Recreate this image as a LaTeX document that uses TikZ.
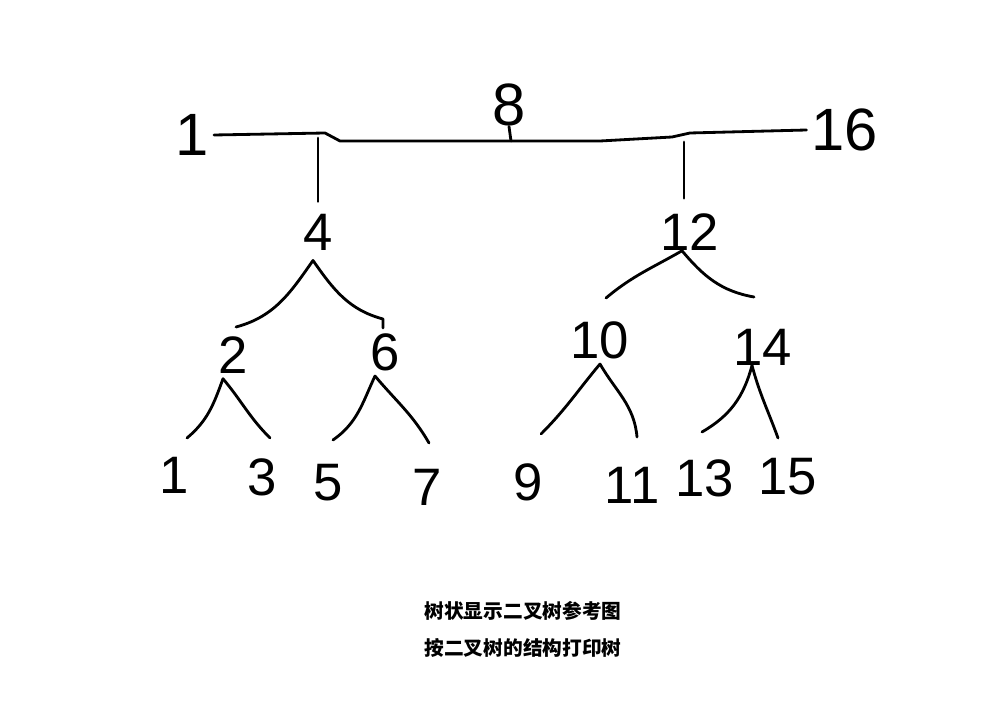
\documentclass[tikz,border=0pt]{standalone}
\usepackage{fontspec}
\setmainfont{Liberation Sans}
\newfontfamily\cjk{Noto Sans CJK SC}
\usetikzlibrary{positioning}

\begin{document}
\begin{tikzpicture}[
    x=0.02cm, y=-0.02cm,
    num/.style={inner sep=0pt, font=\fontsize{30}{30}\selectfont},
    bignum/.style={inner sep=0pt, font=\fontsize{34}{34}\selectfont},
    edge/.style={line width=1.6pt, line cap=round, line join=round},
    captext/.style={inner sep=0pt, font=\cjk\bfseries\fontsize{11.2}{13}\selectfont},
  ]
  \useasboundingbox (0,0) rectangle (998,702);

  \node[bignum] (n1) at (192,135) {1};
  \node[bignum] (n8) at (509,105) {8};
  \node[bignum] (n16) at (845,130) {16};

  \node[num] (n4) at (318,232) {4};
  \node[num] (n12) at (690,232) {12};

  \node[num] (n2) at (233,355) {2};
  \node[num] (n6) at (385,352) {6};
  \node[num] (n10) at (600,340) {10};
  \node[num] (n14) at (763,347) {14};

  \node[num] (l1) at (174,475) {1};
  \node[num] (l3) at (262,477) {3};
  \node[num] (l5) at (328,483) {5};
  \node[num] (l7) at (427,487) {7};
  \node[num] (l9) at (528,482) {9};
  \node[num] (l11) at (632,485) {11};
  \node[num] (l13) at (705,478) {13};
  \node[num] (l15) at (788,477) {15};

  \coordinate (j4) at (318,138);
  \coordinate (j8) at (511,141);
  \coordinate (j12) at (684,142);

  \draw[edge] ([xshift=1mm]n1.east) -- (325,133) -- (340,141) -- (600,141)
    -- (672,137) -- (690,133) -- ([xshift=-1mm]n16.west);
  \draw[edge] (n8.south) -- (j8);
  \draw[edge, shorten >=2.4mm] (j4) -- (n4.north);
  \draw[edge, shorten >=3mm] (j12) -- (j12 |- n12.north);

  \coordinate (e2) at (236,327);
  \coordinate (e6) at (383,328);
  \coordinate (e10) at (606,298);
  \coordinate (e14) at (754,297);
  \draw[edge] ([shift={(-1mm,-2mm)}]n4.south) to[out=-125, in=15] (e2);
  \draw[edge] ([shift={(-1mm,-2mm)}]n4.south) to[out=-55, in=165] (383,319) -- (e6);
  \draw[edge] ([xshift=-1.6mm]n12.south) to[out=-150, in=40] (e10);
  \draw[edge] ([xshift=-1.6mm]n12.south) to[out=-50, in=170] (e14);

  \coordinate (e1) at (187,438);
  \coordinate (e3) at (270,438);
  \coordinate (e5) at (333,440);
  \coordinate (e7) at (429,443);
  \coordinate (e9) at (541,434);
  \coordinate (e11) at (637,437);
  \coordinate (e13) at (702,432);
  \coordinate (e15) at (778,438);
  \draw[edge] ([shift={(-2mm,-1mm)}]n2.south) to[out=-110, in=40] (e1);
  \draw[edge] ([shift={(-2mm,-1mm)}]n2.south) to[out=-50, in=135] (e3);
  \draw[edge] ([shift={(-2mm,-1mm)}]n6.south) to[out=-115, in=35] (e5);
  \draw[edge] ([shift={(-2mm,-1mm)}]n6.south) to[out=-50, in=120] (e7);
  \draw[edge] ([yshift=-1mm]n10.south) to[out=-130, in=45] (e9);
  \draw[edge] ([yshift=-1mm]n10.south) to[out=-60, in=95] (e11);
  \draw[edge] ([xshift=-2.2mm]n14.south) to[out=-105, in=30] (e13);
  \draw[edge] ([xshift=-2.2mm]n14.south) to[out=-75, in=110] (e15);

  \node[captext] (t1) at (523,611) {树状显示二叉树参考图};
  \node[captext] (t2) at (523,648) {按二叉树的结构打印树};
\end{tikzpicture}
\end{document}
